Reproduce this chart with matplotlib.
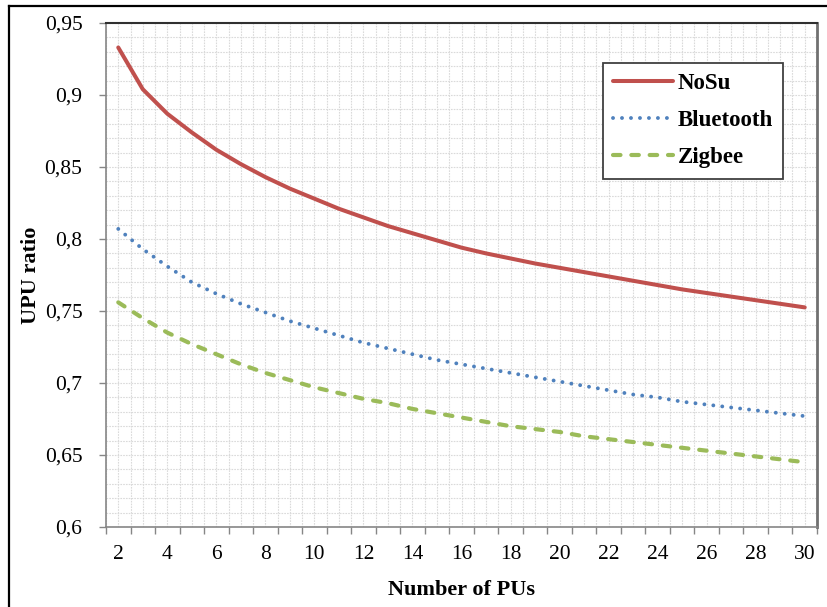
import matplotlib
matplotlib.use('Agg')
import matplotlib.pyplot as plt
from matplotlib.lines import Line2D
import numpy as np

plt.rcParams['font.family'] = ['Liberation Serif', 'DejaVu Serif']

# number of PUs
n_pus = list(range(2, 31))

nosu = [0.933, 0.904, 0.887, 0.874, 0.862, 0.852, 0.843, 0.835, 0.828, 0.821,
        0.815, 0.809, 0.804, 0.799, 0.794, 0.790, 0.7865, 0.783, 0.780, 0.777,
        0.774, 0.771, 0.768, 0.765, 0.7625, 0.760, 0.7575, 0.755, 0.7525]
bluetooth = [0.807, 0.793, 0.781, 0.770, 0.762, 0.755, 0.749, 0.743, 0.738, 0.733,
             0.728, 0.724, 0.720, 0.716, 0.713, 0.710, 0.707, 0.704, 0.701, 0.698,
             0.695, 0.692, 0.690, 0.687, 0.685, 0.683, 0.681, 0.679, 0.677]
zigbee = [0.756, 0.745, 0.735, 0.727, 0.720, 0.713, 0.707, 0.702, 0.697, 0.693,
          0.689, 0.686, 0.682, 0.679, 0.676, 0.673, 0.670, 0.668, 0.666, 0.663,
          0.661, 0.659, 0.657, 0.655, 0.653, 0.651, 0.649, 0.647, 0.645]

x_labels = [str(v) for v in range(2, 31, 2)]
y_ticks = [0.6, 0.65, 0.7, 0.75, 0.8, 0.85, 0.9, 0.95]
y_labels = ['0,6', '0,65', '0,7', '0,75', '0,8', '0,85', '0,9', '0,95']

fig = plt.figure(figsize=(8.27, 6.07), dpi=100)
ax = fig.add_axes([106/827, 1 - 527/607, 711/827, 504/607])

# light dotted grid (every half category, every 0.01)
for gx in np.arange(1.5, 30.51, 0.5):
    ax.axvline(gx, color='#dadada', lw=0.8, ls=(0, (1.5, 1)), zorder=0)
for gy in np.arange(0.6, 0.951, 0.01):
    ax.axhline(gy, color='#dadada', lw=0.8, ls=(0, (1.5, 1)), zorder=0)

ax.plot(n_pus, nosu, color='#C0504D', lw=2.9, solid_capstyle='round',
        solid_joinstyle='round', label='NoSu', zorder=3)
ax.plot(n_pus, bluetooth, color='#4F81BD', lw=2.8, ls=(0, (0.01, 2.3)),
        dash_capstyle='round', label='Bluetooth', zorder=3)
ax.plot(n_pus, zigbee, color='#9BBB59', lw=3, ls=(0, (1.8, 2.6)),
        dash_capstyle='round', label='Zigbee', zorder=3)

ax.set_xlim(1.5, 30.5)
ax.set_ylim(0.6, 0.95)

# ticks between categories, labels on category centres
ax.set_xticks(np.arange(1.5, 30.6, 1))
ax.set_xticklabels([])
ax.set_xticks(range(2, 31, 2), x_labels, minor=True)
ax.tick_params(axis='x', which='major', length=5, color='#868686', width=1)
ax.tick_params(axis='x', which='minor', length=0, pad=13, labelsize=15.5)

ax.set_yticks(y_ticks, y_labels)
ax.tick_params(axis='y', length=5, color='#868686', width=1, pad=12, labelsize=15.5)

for s in ['left', 'bottom']:
    ax.spines[s].set_color('#868686')
    ax.spines[s].set_linewidth(1.2)
ax.spines['top'].set_color('#303030')
ax.spines['top'].set_linewidth(1.5)
ax.spines['right'].set_color('#707070')
ax.spines['right'].set_linewidth(2)

ax.set_xlabel('Number of PUs', fontsize=16, fontweight='bold')
ax.xaxis.set_label_coords(0.5, -0.106)
ax.set_ylabel('UPU ratio', fontsize=16, fontweight='bold')
ax.yaxis.set_label_coords(-0.091, 0.5)

leg = ax.legend(loc='upper left', bbox_to_anchor=(0.699, 0.921), borderaxespad=0,
                fancybox=False, framealpha=1, edgecolor='#404040',
                prop={'weight': 'bold', 'size': 16.5}, handlelength=2.6,
                handletextpad=0.2, labelspacing=0.7, borderpad=0.45)
leg.get_frame().set_linewidth(1.3)

# outer border of the picture
fig.add_artist(Line2D([9/827, 1], [1 - 6/607, 1 - 6/607], color='black', lw=1.6))
fig.add_artist(Line2D([9/827, 9/827], [0, 1 - 6/607], color='black', lw=1.6))

fig.savefig('out.png', dpi=100)
